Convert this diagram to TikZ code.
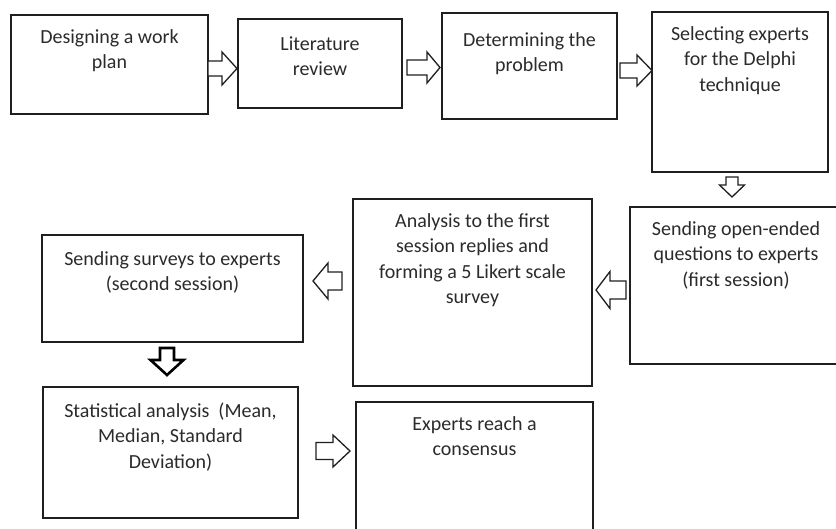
\documentclass[tikz,border=0pt]{standalone}
\usepackage{fontspec}
\setmainfont{Carlito}
\definecolor{boxc}{rgb}{0.12,0.12,0.12}
\definecolor{txtc}{rgb}{0.17,0.17,0.17}
\tikzset{
  pics/blk/.style n args={5}{code={
    \draw[#5] (0,-#4/2) -- (#1-#2,-#4/2) -- (#1-#2,-#3/2) -- (#1,0)
      -- (#1-#2,#3/2) -- (#1-#2,#4/2) -- (0,#4/2) -- cycle;}}
}
\begin{document}
\begin{tikzpicture}[x=1pt,y=-1pt,
  box/.style={draw=boxc, line width=1.6pt, rectangle, inner sep=0pt, outer sep=0pt, anchor=north west},
  txt/.style={anchor=north, inner sep=0pt, align=center, text=txtc, font=\fontsize{20}{25.5}\selectfont},
  harrow/.style={draw=boxc, line width=1.3pt, fill=white, line join=miter},
  barrow/.style={draw=black, line width=2.6pt, fill=white, line join=miter}]
\useasboundingbox[fill=white] (0,0) rectangle (836,528);
\clip (0,0) rectangle (836,528);
% boxes
\node[box, minimum width=197, minimum height=99]  (b1) at (11,15)  {};
\node[box, minimum width=164, minimum height=89]  (b2) at (238,19) {};
\node[box, minimum width=175, minimum height=106] (b3) at (442,13) {};
\node[box, minimum width=176, minimum height=160] (b4) at (652,12) {};
\node[box, minimum width=212, minimum height=157] (b5) at (630,207) {};
\node[box, minimum width=239, minimum height=187] (b6) at (353,199) {};
\node[box, minimum width=261, minimum height=107] (b7) at (42,235) {};
\node[box, minimum width=255, minimum height=131] (b8) at (43,387) {};
\node[box, minimum width=237, minimum height=140] (b9) at (356,402) {};
% texts
\node[txt] (t1) at ([yshift=-10]b1.north) {\strut Designing a work\\plan};
\node[txt] (t2) at ([yshift=-13]b2.north) {\strut Literature\\review};
\node[txt] (t3) at ([yshift=-15]b3.north) {\strut Determining the\\problem};
\node[txt] (t4) at ([yshift=-10]b4.north) {\strut Selecting experts\\for the Delphi\\technique};
\node[txt] (t5) at ([yshift=-10]b5.north) {\strut Sending open-ended\\questions to experts\\(first session)};
\node[txt] (t6) at ([yshift=-10]b6.north) {\strut Analysis to the first\\session replies and\\forming a 5 Likert scale\\survey};
\node[txt] (t7) at ([yshift=-12]b7.north) {\strut Sending surveys to experts\\(second session)};
\node[txt] (t8) at ([yshift=-12]b8.north) {\strut Statistical analysis\ \ (Mean,\\Median, Standard\\Deviation)};
\node[txt] (t9) at ([yshift=-10]b9.north) {\strut Experts reach a\\consensus};
% block arrows
\pic at (208,68.5) {blk={29}{15}{33}{15}{harrow}};
\pic at (407,67.5) {blk={33}{13}{31}{15}{harrow}};
\pic at (620,70.5) {blk={32}{15}{31}{15}{harrow}};
\pic[rotate=-90] at (732,177) {blk={20}{12}{25}{12}{harrow}};
\pic[rotate=180] at (626,290) {blk={30}{14}{37}{18}{harrow}};
\pic[rotate=180] at (342,281) {blk={29}{15}{36}{18}{harrow}};
\pic[rotate=-90] at (167,348) {blk={27}{15}{33}{14}{barrow}};
\pic at (316,451) {blk={34}{17}{32}{17}{harrow}};
\end{tikzpicture}
\end{document}
